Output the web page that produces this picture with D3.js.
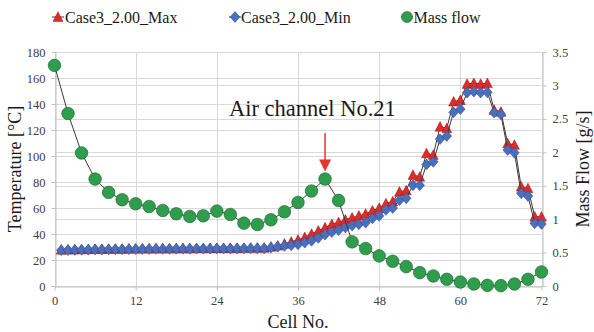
<!DOCTYPE html>
<html>
<head>
<meta charset="utf-8">
<script src="https://cdn.jsdelivr.net/npm/d3@7"></script>
<style>
  body { margin: 0; background: #fff; }
  svg { display: block; }
  text { font-family: "Liberation Serif", "Times New Roman", serif; }
</style>
</head>
<body>
<svg id="chart" width="594" height="332"></svg>
<script>
// Cell numbers for the temperature series (one point per cell)
const tempCells = [1,2,3,4,5,6,7,8,9,10,11,12,13,14,15,16,17,18,19,20,21,22,23,24,25,26,27,28,29,30,
  31,32,33,34,35,36,37,38,39,40,41,42,43,44,45,46,47,48,49,50,51,52,53,54,55,56,57,58,59,60,
  61,62,63,64,65,66,67,68,69,70,71,72];

// Maximum temperature per cell [°C]
const tempMax = [27.9,28.0,28.1,28.2,28.3,28.4,28.4,28.5,28.6,28.6,28.7,28.7,28.8,28.8,28.9,28.9,28.9,29.0,29.0,29.0,29.1,29.1,29.1,29.2,29.2,29.2,29.2,29.3,29.3,29.4,
  29.4,30.2,31.0,32.5,34.0,35.5,37.5,40.0,42.5,45.0,47.5,49.0,51.0,52.5,54.0,55.5,58.0,60.0,63.5,65.0,72.5,73.5,85.4,84.0,102.0,100.8,122.5,121.3,141.8,143.0,
  155.4,156.0,155.4,156.0,135.4,134.0,109.7,108.5,76.4,75.1,53.3,53.3];

// Minimum temperature per cell [°C]
const tempMin = [27.5,27.6,27.7,27.8,27.9,28.0,28.0,28.1,28.2,28.2,28.3,28.3,28.4,28.4,28.5,28.5,28.5,28.6,28.6,28.6,28.7,28.7,28.7,28.8,28.8,28.8,28.8,28.9,28.9,28.9,
  28.9,29.5,30.2,30.8,31.3,32.0,33.3,34.8,37.0,39.5,41.5,43.0,45.0,46.5,47.5,48.7,52.0,54.0,58.5,60.0,66.0,67.5,77.5,77.5,93.5,95.5,113.0,115.4,133.6,136.0,
  148.7,149.5,148.7,149.0,133.3,132.0,104.6,102.5,71.3,69.2,48.2,47.7];

// Cell numbers for the mass flow series (every second cell)
const massCells = [0,2,4,6,8,10,12,14,16,18,20,22,24,26,28,30,32,34,36,38,40,42,44,46,48,50,52,54,56,58,60,62,64,66,68,70,72];

// Air mass flow per channel [g/s]
const massFlow = [3.30,2.58,1.99,1.60,1.40,1.29,1.23,1.19,1.13,1.08,1.04,1.05,1.12,1.07,0.94,0.92,0.99,1.11,1.25,1.42,
  1.60,1.28,0.66,0.56,0.45,0.37,0.29,0.20,0.15,0.10,0.06,0.03,0.01,0.005,0.03,0.10,0.21];

// Axis ticks
const cellTicks = [0,12,24,36,48,60,72];
const tempTicks = [0,20,40,60,80,100,120,140,160,180];
const massTicks = [0,0.5,1,1.5,2,2.5,3,3.5];

const seriesNames = ["Case3_2.00_Max", "Case3_2.00_Min", "Mass flow"];
const annotationText = "Air channel No.21";
const annotatedCell = 40;

const colors = {
  maxFill: "#e12a2a", maxStroke: "#8e1b1b",
  minFill: "#4a6fbe", minStroke: "#2a4780",
  flowFill: "#2f9e4c", flowStroke: "#1d5e2f",
  line: "#3a3a3a", grid: "#d9d9d9", axis: "#bfbfbf",
  tickText: "#404040", title: "#1a1a1a", arrow: "#e8322c"
};

const svg = d3.select("#chart");
const plot = { left: 54.5, right: 541.5, top: 52, bottom: 286 };

const x = d3.scaleLinear().domain([0, 72]).range([plot.left, plot.right]);
const yT = d3.scaleLinear().domain([0, 180]).range([plot.bottom, plot.top]);
const yM = d3.scaleLinear().domain([0, 3.5]).range([plot.bottom, plot.top]);

const crisp = v => Math.round(v) + 0.5;

// Gridlines: both vertical scales get their own horizontal lines
const grid = svg.append("g");
tempTicks.forEach(t => grid.append("line")
  .attr("x1", plot.left).attr("x2", plot.right)
  .attr("y1", crisp(yT(t))).attr("y2", crisp(yT(t)))
  .attr("stroke", colors.grid).attr("stroke-width", 1));
massTicks.forEach(t => grid.append("line")
  .attr("x1", plot.left).attr("x2", plot.right)
  .attr("y1", crisp(yM(t))).attr("y2", crisp(yM(t)))
  .attr("stroke", colors.grid).attr("stroke-width", 1));
cellTicks.forEach(t => grid.append("line")
  .attr("x1", crisp(x(t))).attr("x2", crisp(x(t)))
  .attr("y1", plot.top).attr("y2", plot.bottom)
  .attr("stroke", colors.grid).attr("stroke-width", 1));

// Axes
function styleAxis(g) {
  g.selectAll(".domain").attr("stroke", colors.axis);
  g.selectAll(".tick line").attr("stroke", colors.axis);
  g.selectAll(".tick text")
    .attr("fill", colors.tickText)
    .style("font-size", "12.5px")
    .style("font-family", "'Liberation Serif', 'Times New Roman', serif");
}

svg.append("g")
  .attr("transform", `translate(${crisp(plot.left)},0)`)
  .call(d3.axisLeft(yT).tickValues(tempTicks).tickSize(4).tickSizeOuter(0).tickPadding(6))
  .call(styleAxis);

svg.append("g")
  .attr("transform", `translate(${crisp(plot.right)},0)`)
  .call(d3.axisRight(yM).tickValues(massTicks).tickFormat(d3.format("~g"))
    .tickSize(4).tickSizeOuter(0).tickPadding(6))
  .call(styleAxis);

svg.append("g")
  .attr("transform", `translate(0,${crisp(plot.bottom)})`)
  .call(d3.axisBottom(x).tickValues(cellTicks).tickSize(4).tickSizeOuter(0).tickPadding(6))
  .call(styleAxis);

// Axis titles
svg.append("text")
  .attr("transform", `translate(21,${(plot.top + plot.bottom) / 2}) rotate(-90)`)
  .attr("text-anchor", "middle").attr("fill", colors.title)
  .style("font-size", "18px").text("Temperature [°C]");

svg.append("text")
  .attr("transform", `translate(589,${(plot.top + plot.bottom) / 2}) rotate(-90)`)
  .attr("text-anchor", "middle").attr("fill", colors.title)
  .style("font-size", "18px").text("Mass Flow [g/s]");

svg.append("text")
  .attr("x", (plot.left + plot.right) / 2).attr("y", 328)
  .attr("text-anchor", "middle").attr("fill", colors.title)
  .style("font-size", "18px").text("Cell No.");

// Marker shapes
const triPath = (s) => `M0,${-s}L${s * 0.95},${s * 0.85}L${-s * 0.95},${s * 0.85}Z`;
const diaPath = (w, h) => `M0,${-h}L${w},0L0,${h}L${-w},0Z`;

const lineGen = (xs, ys, yScale) => d3.line()
  .x((d, i) => x(xs[i])).y((d, i) => yScale(ys[i]))(ys);

// Max series
svg.append("path").attr("d", lineGen(tempCells, tempMax, yT))
  .attr("fill", "none").attr("stroke", colors.line).attr("stroke-width", 1);
svg.append("g").selectAll("path").data(tempMax).join("path")
  .attr("transform", (d, i) => `translate(${x(tempCells[i])},${yT(d)})`)
  .attr("d", triPath(5.2))
  .attr("fill", colors.maxFill).attr("stroke", colors.maxStroke).attr("stroke-width", 0.5);

// Min series
svg.append("path").attr("d", lineGen(tempCells, tempMin, yT))
  .attr("fill", "none").attr("stroke", colors.line).attr("stroke-width", 1);
svg.append("g").selectAll("path").data(tempMin).join("path")
  .attr("transform", (d, i) => `translate(${x(tempCells[i])},${yT(d)})`)
  .attr("d", diaPath(4.8, 5.4))
  .attr("fill", colors.minFill).attr("stroke", colors.minStroke).attr("stroke-width", 0.5);

// Mass flow series (secondary axis)
svg.append("path").attr("d", lineGen(massCells, massFlow, yM))
  .attr("fill", "none").attr("stroke", colors.line).attr("stroke-width", 1);
svg.append("g").selectAll("circle").data(massFlow).join("circle")
  .attr("cx", (d, i) => x(massCells[i])).attr("cy", d => yM(d))
  .attr("r", 6.3)
  .attr("fill", colors.flowFill).attr("stroke", colors.flowStroke).attr("stroke-width", 0.6);

// Annotation: arrow pointing at the mass flow of the marked channel
const annIdx = massCells.indexOf(annotatedCell);
const ax = x(annotatedCell);
const tipY = yM(massFlow[annIdx]) - 7.5;
svg.append("line")
  .attr("x1", ax).attr("x2", ax).attr("y1", 133).attr("y2", tipY - 10)
  .attr("stroke", colors.arrow).attr("stroke-width", 1.5);
svg.append("path")
  .attr("d", `M${ax - 6},${tipY - 12}L${ax + 6},${tipY - 12}L${ax},${tipY}Z`)
  .attr("fill", colors.arrow);
svg.append("text")
  .attr("x", 229).attr("y", 115.5)
  .attr("fill", colors.title).style("font-size", "22.5px")
  .text(annotationText);

// Legend
const legendY = 17;
const legendItems = [
  { cx: 58, tx: 65, kind: "tri" },
  { cx: 235, tx: 241, kind: "dia" },
  { cx: 407, tx: 413.5, kind: "cir" }
];
legendItems.forEach((it, i) => {
  const g = svg.append("g");
  g.append("line").attr("x1", it.cx - 6).attr("x2", it.cx + 6)
    .attr("y1", legendY).attr("y2", legendY)
    .attr("stroke", colors.line).attr("stroke-width", 1);
  if (it.kind === "tri") {
    g.append("path").attr("transform", `translate(${it.cx},${legendY})`).attr("d", triPath(5.2))
      .attr("fill", colors.maxFill).attr("stroke", colors.maxStroke).attr("stroke-width", 0.5);
  } else if (it.kind === "dia") {
    g.append("path").attr("transform", `translate(${it.cx},${legendY})`).attr("d", diaPath(4.8, 5.4))
      .attr("fill", colors.minFill).attr("stroke", colors.minStroke).attr("stroke-width", 0.5);
  } else {
    g.append("circle").attr("cx", it.cx).attr("cy", legendY).attr("r", 5.5)
      .attr("fill", colors.flowFill).attr("stroke", colors.flowStroke).attr("stroke-width", 0.6);
  }
  g.append("text").attr("x", it.tx).attr("y", 22.5)
    .attr("fill", colors.title).style("font-size", "16px")
    .text(seriesNames[i]);
});
</script>
</body>
</html>
